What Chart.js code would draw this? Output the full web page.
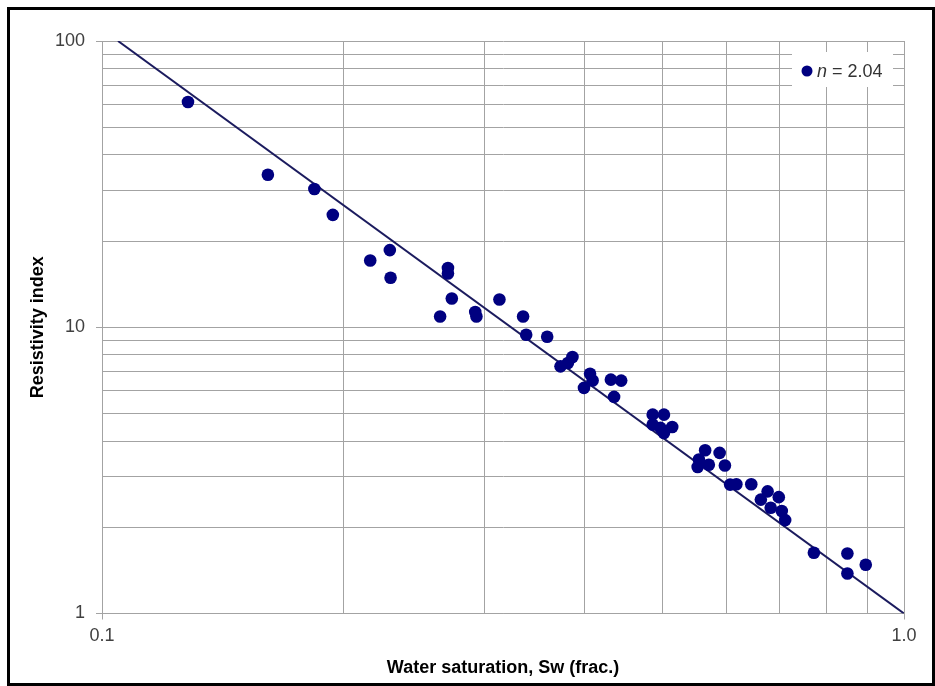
<!DOCTYPE html>
<html>
<head>
<meta charset="utf-8">
<title>Resistivity index vs water saturation</title>
<script src="https://cdn.jsdelivr.net/npm/chart.js@4"></script>
<style>
  html, body { margin: 0; padding: 0; background: #fff; }
  #wrap { position: relative; width: 935px; height: 686px; }
</style>
</head>
<body>
<div id="wrap"><canvas id="riChart"></canvas></div>
<script>
// Puntos medidos (Sw, RI)
const swValues = [0.128, 0.161, 0.184, 0.194, 0.216, 0.2285, 0.229, 0.270, 0.270, 0.273,
  0.264, 0.292, 0.293, 0.313, 0.335, 0.338, 0.359, 0.373, 0.381, 0.386,
  0.406, 0.409, 0.399, 0.431, 0.444, 0.435, 0.486, 0.502, 0.486, 0.497,
  0.514, 0.502, 0.565, 0.589, 0.555, 0.571, 0.553, 0.598, 0.607, 0.618,
  0.645, 0.676, 0.663, 0.698, 0.682, 0.704, 0.711, 0.772, 0.850, 0.850, 0.896];
const riValues = [61.2, 34.1, 30.4, 24.7, 17.1, 18.6, 14.9, 16.1, 15.4, 12.6,
  10.9, 11.3, 10.9, 12.5, 10.9, 9.41, 9.26, 7.30, 7.50, 7.87,
  6.88, 6.52, 6.14, 6.56, 6.51, 5.71, 4.95, 4.95, 4.57, 4.45,
  4.48, 4.27, 3.72, 3.64, 3.45, 3.31, 3.25, 3.29, 2.82, 2.83,
  2.83, 2.67, 2.50, 2.55, 2.34, 2.28, 2.12, 1.63, 1.62, 1.38, 1.48];

// Recta de ajuste (extremos)
const fitSw = [0.1047, 1.0];
const fitRi = [100, 1];

// Ejes
const xTicks = [0.1, 0.2, 0.3, 0.4, 0.5, 0.6, 0.7, 0.8, 0.9, 1.0];
const xLabels = { 0.1: "0.1", 1: "1.0" };
const yTicks = [1, 2, 3, 4, 5, 6, 7, 8, 9, 10, 20, 30, 40, 50, 60, 70, 80, 90, 100];
const yLabels = { 1: "1", 10: "10", 100: "100" };

const legendExp = "n";
const legendValue = " = 2.04";

const FONT = "'Liberation Sans', Arial, sans-serif";
const GRID = "#a3a3a3";
const NAVY = "#000080";

const scatterPts = swValues.map((x, i) => ({ x: x, y: riValues[i] }));
const fitPts = fitSw.map((x, i) => ({ x: x, y: fitRi[i] }));

// Fondo blanco y marco negro
const framePlugin = {
  id: "frame",
  beforeDraw(c) {
    const ctx = c.ctx;
    ctx.save();
    ctx.fillStyle = "#fff";
    ctx.fillRect(0, 0, c.width, c.height);
    ctx.strokeStyle = "#000";
    ctx.lineWidth = 3;
    ctx.strokeRect(8.5, 8.5, 925, 676);
    ctx.restore();
  }
};

// Leyenda dentro del área del gráfico
const legendPlugin = {
  id: "insideLegend",
  afterDatasetsDraw(c) {
    const ctx = c.ctx;
    const a = c.chartArea;
    const bx = a.right - 112, by = a.top + 11, bw = 101, bh = 35;
    ctx.save();
    ctx.fillStyle = "#fff";
    ctx.fillRect(bx, by, bw, bh);
    ctx.fillStyle = NAVY;
    ctx.beginPath();
    ctx.arc(bx + 15, by + 19, 5.5, 0, Math.PI * 2);
    ctx.fill();
    ctx.fillStyle = "#333";
    ctx.textBaseline = "alphabetic";
    ctx.font = "italic 18px " + FONT;
    ctx.fillText(legendExp, bx + 25, by + 25);
    const w = ctx.measureText(legendExp).width;
    ctx.font = "18px " + FONT;
    ctx.fillText(legendValue, bx + 25 + w, by + 25);
    ctx.restore();
  }
};

function isMajor(v, labels) {
  return Object.keys(labels).some(k => Math.abs(Number(k) - v) < 1e-9);
}

new Chart(document.getElementById("riChart"), {
  type: "scatter",
  data: {
    datasets: [
      {
        type: "line",
        data: fitPts,
        borderColor: "#1b1b5e",
        borderWidth: 2,
        pointRadius: 0,
        fill: false,
        order: 2
      },
      {
        data: scatterPts,
        backgroundColor: NAVY,
        borderWidth: 0,
        pointRadius: 6.3,
        pointHoverRadius: 6.3,
        order: 1
      }
    ]
  },
  options: {
    responsive: true,
    maintainAspectRatio: false,
    animation: false,
    layout: { padding: { left: 23, right: 31, top: 41, bottom: 0 } },
    plugins: { legend: { display: false }, tooltip: { enabled: false } },
    scales: {
      x: {
        type: "logarithmic",
        min: 0.1,
        max: 1.0,
        afterBuildTicks: s => { s.ticks = xTicks.map(v => ({ value: v })); },
        afterFit: s => { s.height = 72.5; },
        border: { color: GRID, width: 1 },
        grid: {
          color: GRID,
          lineWidth: 1,
          tickLength: 6,
          tickColor: c => (c.tick && isMajor(c.tick.value, xLabels)) ? GRID : "rgba(0,0,0,0)"
        },
        ticks: {
          autoSkip: false,
          maxRotation: 0,
          padding: 6,
          color: "#404040",
          font: { family: FONT, size: 18 },
          callback: v => xLabels[v] || (Math.abs(v - 1) < 1e-9 ? "1.0" : "")
        },
        title: {
          display: true,
          text: "Water saturation, Sw (frac.)",
          color: "#000",
          font: { family: FONT, size: 18, weight: "bold" },
          padding: { top: 4, bottom: 7 }
        }
      },
      y: {
        type: "logarithmic",
        min: 1,
        max: 100,
        afterBuildTicks: s => { s.ticks = yTicks.map(v => ({ value: v })); },
        afterFit: s => { s.width = 79; },
        border: { color: GRID, width: 1 },
        grid: {
          color: GRID,
          lineWidth: 1,
          tickLength: 6,
          tickColor: c => (c.tick && isMajor(c.tick.value, yLabels)) ? GRID : "rgba(0,0,0,0)"
        },
        ticks: {
          autoSkip: false,
          padding: 11,
          color: "#404040",
          font: { family: FONT, size: 18 },
          callback: v => yLabels[v] || ""
        },
        title: {
          display: true,
          text: "Resistivity index",
          color: "#000",
          font: { family: FONT, size: 18, weight: "bold" },
          padding: { top: 4, bottom: 4 }
        }
      }
    }
  },
  plugins: [framePlugin, legendPlugin]
});
</script>
</body>
</html>
